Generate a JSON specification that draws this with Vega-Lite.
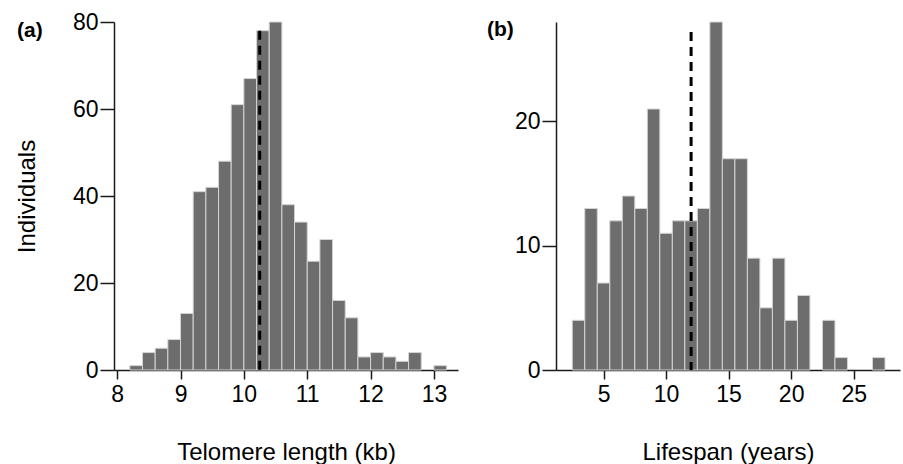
{
  "$schema": "https://vega.github.io/schema/vega-lite/v6.json",
  "padding": {"left": 15, "top": 11, "right": 1, "bottom": 0},
  "bounds": "flush",
  "spacing": 98,
  "config": {
    "view": {"stroke": null},
    "font": "Liberation Sans",
    "axis": {
      "domainColor": "#1a1a1a", "domainWidth": 1.5,
      "tickColor": "#1a1a1a", "tickWidth": 1.5,
      "grid": false, "labelFlush": false,
      "labelFont": "Liberation Sans", "labelFontSize": 23, "labelColor": "#000",
      "titleFont": "Liberation Sans", "titleFontSize": 24, "titleFontWeight": "normal", "titleColor": "#000"
    },
    "axisX": {"tickSize": 9, "labelPadding": 4, "titlePadding": 34},
    "axisY": {"tickSize": 14, "labelPadding": 2, "titlePadding": 33},
    "title": {"anchor": "start", "frame": "group", "fontWeight": "bold", "fontSize": 21, "font": "Liberation Sans", "color": "#000", "offset": 0, "baseline": "middle"}
  },
  "datasets": {
    "tel": [
      {"start": 8.2, "end": 8.4, "count": 1},
      {"start": 8.4, "end": 8.6, "count": 4},
      {"start": 8.6, "end": 8.8, "count": 5},
      {"start": 8.8, "end": 9.0, "count": 7},
      {"start": 9.0, "end": 9.2, "count": 13},
      {"start": 9.2, "end": 9.4, "count": 41},
      {"start": 9.4, "end": 9.6, "count": 42},
      {"start": 9.6, "end": 9.8, "count": 48},
      {"start": 9.8, "end": 10.0, "count": 61},
      {"start": 10.0, "end": 10.2, "count": 67},
      {"start": 10.2, "end": 10.4, "count": 78},
      {"start": 10.4, "end": 10.6, "count": 80},
      {"start": 10.6, "end": 10.8, "count": 38},
      {"start": 10.8, "end": 11.0, "count": 34},
      {"start": 11.0, "end": 11.2, "count": 25},
      {"start": 11.2, "end": 11.4, "count": 30},
      {"start": 11.4, "end": 11.6, "count": 16},
      {"start": 11.6, "end": 11.8, "count": 12},
      {"start": 11.8, "end": 12.0, "count": 3},
      {"start": 12.0, "end": 12.2, "count": 4},
      {"start": 12.2, "end": 12.4, "count": 3},
      {"start": 12.4, "end": 12.6, "count": 2},
      {"start": 12.6, "end": 12.8, "count": 4},
      {"start": 13.0, "end": 13.2, "count": 1}
    ],
    "telmean": [{"x": 10.25, "y": 78, "y2": 0}],
    "life": [
      {"start": 2.5, "end": 3.5, "count": 4},
      {"start": 3.5, "end": 4.5, "count": 13},
      {"start": 4.5, "end": 5.5, "count": 7},
      {"start": 5.5, "end": 6.5, "count": 12},
      {"start": 6.5, "end": 7.5, "count": 14},
      {"start": 7.5, "end": 8.5, "count": 13},
      {"start": 8.5, "end": 9.5, "count": 21},
      {"start": 9.5, "end": 10.5, "count": 11},
      {"start": 10.5, "end": 11.5, "count": 12},
      {"start": 11.5, "end": 12.5, "count": 12},
      {"start": 12.5, "end": 13.5, "count": 13},
      {"start": 13.5, "end": 14.5, "count": 28},
      {"start": 14.5, "end": 15.5, "count": 17},
      {"start": 15.5, "end": 16.5, "count": 17},
      {"start": 16.5, "end": 17.5, "count": 9},
      {"start": 17.5, "end": 18.5, "count": 5},
      {"start": 18.5, "end": 19.5, "count": 9},
      {"start": 19.5, "end": 20.5, "count": 4},
      {"start": 20.5, "end": 21.5, "count": 6},
      {"start": 22.5, "end": 23.5, "count": 4},
      {"start": 23.5, "end": 24.5, "count": 1},
      {"start": 26.5, "end": 27.5, "count": 1}
    ],
    "lifemean": [{"x": 12, "y": 27.2, "y2": 0}]
  },
  "hconcat": [
    {
      "width": 344, "height": 348,
      "title": {"text": "(a)", "dx": -97, "dy": 34},
      "layer": [
        {
          "data": {"name": "tel"},
          "mark": {"type": "bar", "fill": "#6d6d6d", "stroke": "#d4d4d4", "strokeWidth": 1},
          "encoding": {
            "x": {"field": "start", "type": "quantitative", "scale": {"domain": [7.95, 13.38], "nice": false, "zero": false}, "axis": {"values": [8, 9, 10, 11, 12, 13], "format": "d", "title": "Telomere length (kb)"}},
            "x2": {"field": "end"},
            "y": {"field": "count", "type": "quantitative", "scale": {"domain": [0, 80], "nice": false}, "axis": {"values": [0, 20, 40, 60, 80], "title": "Individuals"}},
            "y2": {"datum": 0}
          }
        },
        {
          "data": {"name": "telmean"},
          "mark": {"type": "rule", "strokeDash": [9, 6], "strokeWidth": 3, "color": "#000"},
          "encoding": {
            "x": {"field": "x", "type": "quantitative"},
            "y": {"field": "y", "type": "quantitative"},
            "y2": {"field": "y2"}
          }
        }
      ]
    },
    {
      "width": 344, "height": 348,
      "title": {"text": "(b)", "dx": -69, "dy": 22},
      "layer": [
        {
          "data": {"name": "life"},
          "mark": {"type": "bar", "fill": "#6d6d6d", "stroke": "#d4d4d4", "strokeWidth": 1},
          "encoding": {
            "x": {"field": "start", "type": "quantitative", "scale": {"domain": [1.2, 28.7], "nice": false, "zero": false}, "axis": {"values": [5, 10, 15, 20, 25], "format": "d", "title": "Lifespan (years)"}},
            "x2": {"field": "end"},
            "y": {"field": "count", "type": "quantitative", "scale": {"domain": [0, 28], "nice": false}, "axis": {"values": [0, 10, 20], "title": null}},
            "y2": {"datum": 0}
          }
        },
        {
          "data": {"name": "lifemean"},
          "mark": {"type": "rule", "strokeDash": [9, 6], "strokeWidth": 3, "color": "#000"},
          "encoding": {
            "x": {"field": "x", "type": "quantitative"},
            "y": {"field": "y", "type": "quantitative"},
            "y2": {"field": "y2"}
          }
        }
      ]
    }
  ]
}
